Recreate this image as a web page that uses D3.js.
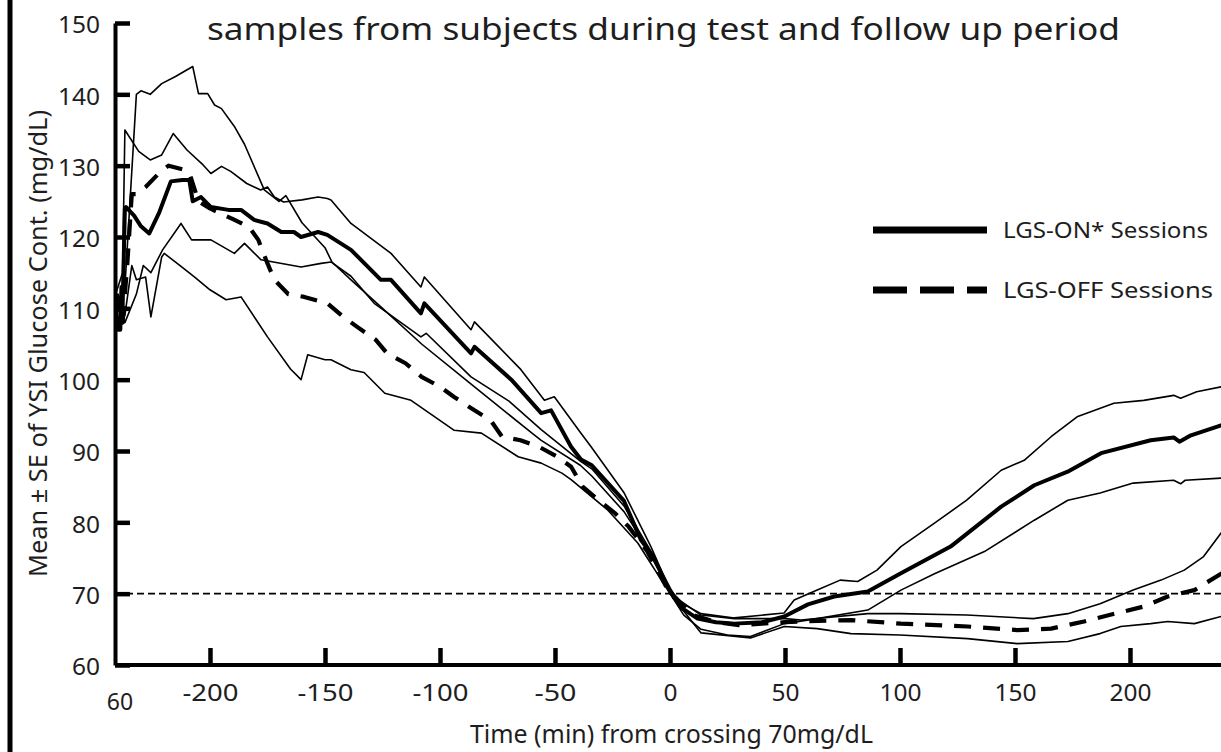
<!DOCTYPE html>
<html>
<head>
<meta charset="utf-8">
<script src="https://cdn.jsdelivr.net/npm/d3@7"></script>
<style>
  body { margin: 0; background: #fff; }
  svg { display: block; }
  text { font-family: "Noto Sans", sans-serif; fill: #1e1e1e; }
</style>
</head>
<body>
<div id="chart"></div>
<script>
// values: [minutes from crossing 70 mg/dL, glucose mg/dL]
const lgsOnMean = [[-241,110],[-240,107],[-239,107],[-238.5,113],[-238,110],[-237,124],[-236.5,124.2],[-233,123],[-230,121.5],[-226.4,120.5],[-222,123.5],[-217,127.8],[-212,128],[-209,128],[-207.5,125],[-203.9,125.6],[-199.6,124.2],[-192,123.8],[-186.5,123.8],[-180.8,122.4],[-175,121.9],[-169,120.7],[-163.5,120.7],[-160.4,120],[-153,120.7],[-149,120.3],[-138.7,118.2],[-125.7,114],[-121.3,114],[-108.3,109.3],[-106.8,110.7],[-86.5,103.7],[-85,104.6],[-69,100],[-56,95.3],[-51.7,95.7],[-43,90.6],[-38.7,88.8],[-34,88],[-20,83],[-12.6,77.5],[-8,75.5],[0,70.5],[5,68],[12,66.5],[20,66],[28,65.8],[40,66],[49.7,66.8],[60,68.5],[71.4,69.6],[86,70.3],[100,72.8],[122,76.6],[144,82.2],[158.4,85.2],[172.9,87.1],[187.4,89.7],[209,91.5],[219,91.9],[221.5,91.3],[226.5,92.2],[239.6,93.6],[246,94.2]];
const lgsOnUpper = [[-241,112],[-238,115],[-237,135],[-231,132],[-226,130.8],[-221,131.5],[-216,134.5],[-210,132.2],[-203,130.1],[-199.6,128.9],[-195,129.9],[-191,129.2],[-184,127.5],[-178,126.6],[-175,127],[-172,125.6],[-168,124.9],[-160,125.2],[-153,125.6],[-149,125.4],[-147.4,125.2],[-138.7,121.9],[-121.3,117.7],[-108.3,113],[-106.8,114.4],[-86.5,107],[-85,108.1],[-64.8,101.4],[-54.6,97.1],[-50.3,97.6],[-38.7,92.5],[-34.3,90.6],[-19.9,84.1],[-8.3,76.6],[0,70.5],[6,68.5],[13.5,67.2],[28,66.6],[49.6,67.3],[54,69.1],[64,70.5],[74,71.9],[81.6,71.7],[90,73.3],[100.4,76.6],[115,79.9],[129,83.1],[144,87.3],[154,88.7],[165.7,92],[177,94.8],[193,96.7],[206,97.1],[219,97.8],[222,97.4],[229,98.3],[239.6,99],[246,99.3]];
const lgsOnLower = [[-241,106],[-240,110],[-237,108],[-232,112],[-229,116],[-225.7,115],[-220.6,118.2],[-212.6,121.9],[-208,119.6],[-199.6,119.6],[-189.4,117.7],[-185,119.1],[-177.8,116.8],[-160.4,115.8],[-151.7,116.3],[-147.4,116.5],[-138.7,114.5],[-128.6,110.7],[-108.3,106],[-106,106.5],[-86.5,100.4],[-70,97],[-56,93],[-38.7,88.5],[-34,87.5],[-20,82.3],[-8,75.8],[0,70],[6,67],[13.5,65],[25,64.2],[35,64],[49.7,65.8],[64,66.5],[86,67.7],[100.4,70.5],[115,72.8],[136.7,75.9],[158.4,80.3],[173,83.1],[187,84.1],[201.4,85.5],[219,85.9],[222,85.4],[224,85.9],[239.6,86.2],[246,86.3]];
const lgsOffMean = [[-241,112],[-240,110],[-238,108],[-236,116],[-234,126],[-232,126],[-228,127],[-222,129],[-218,130],[-212,129.5],[-209,129],[-205,125],[-200,124],[-190,122.5],[-183,121.4],[-179,119.6],[-175,116.3],[-172,114],[-166,112],[-159,111.6],[-149,110.7],[-142,108.8],[-136,107.4],[-128,105.6],[-123,103.7],[-115,102.3],[-108,100.4],[-100,99],[-94,97.6],[-85,95.7],[-78,94.3],[-73,92],[-65,91.5],[-57,90.6],[-49,89.2],[-43,87.8],[-38,85],[-31,83.1],[-24,81.3],[-18,79.4],[-10,76],[0,70],[10,67],[20,66],[30,65.6],[40,65.8],[50,66],[57,66.1],[78.7,66.3],[100.4,65.8],[129.4,65.4],[151,64.9],[165.7,65.1],[180,66.1],[194.7,67.3],[206,68.2],[216.4,69.6],[228,70.5],[239.6,72.8],[246,74]];
const lgsOffUpper = [[-241,110],[-237,113],[-232,140],[-230,140.5],[-226,140],[-221,141.5],[-215,142.5],[-207.5,143.9],[-205,140.1],[-201,140.1],[-198,138.5],[-195,138],[-189.4,135.5],[-185,133],[-176.4,126.6],[-170,125],[-167,125.8],[-160,122],[-150,118.5],[-147,116.5],[-138.7,114],[-125.7,110.2],[-108,105],[-87,99.5],[-60,92.5],[-56,91.5],[-39,88],[-34,86.5],[-20,81.5],[-8,75.5],[0,70],[13.5,67],[28,66.5],[50,66.5],[57,66.3],[86,67.2],[100,67.2],[129,67],[158,66.5],[173,67.2],[187,68.6],[201.4,70.5],[213.5,71.9],[223.6,73.3],[232,75.2],[239.6,78.5],[246,81]];
const lgsOffLower = [[-241,107],[-240,112],[-237,109],[-234,116],[-232,114],[-228,114.4],[-225.7,108.8],[-221,117.2],[-219.9,117.7],[-213,116],[-206.8,114.4],[-200,112.6],[-193,111.2],[-186.5,111.6],[-175,106],[-165,101.5],[-160.4,100],[-157.5,103.5],[-150,102.8],[-147.4,102.8],[-138.7,101.4],[-133,101],[-124,98.1],[-112.6,97.1],[-93.8,92.9],[-82,92.5],[-66,89.2],[-56,88.3],[-47,86.9],[-43,86],[-27,81.7],[-14,77.1],[0,70],[13.5,64.5],[35,63.8],[49.7,65.4],[64,65.1],[78.7,64.4],[100,64.2],[129.4,63.7],[151,63],[173,63.3],[187,64.4],[196,65.4],[209,65.8],[216.4,66.1],[228,65.8],[239.6,66.8],[246,67]];

const xTicks = [-200, -150, -100, -50, 0, 50, 100, 150, 200];
const yTicks = [60, 70, 80, 90, 100, 110, 120, 130, 140, 150];
const threshold = 70;
const legendLabels = ["LGS-ON* Sessions", "LGS-OFF Sessions"];

const W = 1221, H = 752;

const svg = d3.select("#chart").append("svg")
    .attr("width", W)
    .attr("height", H);

const x = d3.scaleLinear().domain([-241.3, 250]).range([115, 115 + 491.3 * 2.3]);
const y = d3.scaleLinear().domain([60, 150]).range([665, 23]);

// frame edge on the left
svg.append("line")
    .attr("x1", 10).attr("x2", 10).attr("y1", 0).attr("y2", H)
    .attr("stroke", "#000").attr("stroke-width", 5);

// title (only its second line is inside the picture)
svg.append("text")
    .attr("x", 207).attr("y", 40)
    .attr("font-size", 31)
    .attr("textLength", 913).attr("lengthAdjust", "spacingAndGlyphs")
    .text("samples from subjects during test and follow up period");

svg.append("defs").append("clipPath").attr("id", "plot")
    .append("rect").attr("x", 115).attr("y", 0).attr("width", W - 115).attr("height", 665);

// 70 mg/dL reference
svg.append("line")
    .attr("x1", x(-241.3)).attr("x2", W)
    .attr("y1", y(threshold)).attr("y2", y(threshold))
    .attr("stroke", "#000").attr("stroke-width", 1.8)
    .attr("stroke-dasharray", "7,4");

const line = d3.line().x(d => x(d[0])).y(d => y(d[1]));
const g = svg.append("g").attr("clip-path", "url(#plot)");

const series = [
    { data: lgsOnUpper, w: 1.6, dash: null },
    { data: lgsOnLower, w: 1.6, dash: null },
    { data: lgsOffUpper, w: 1.6, dash: null },
    { data: lgsOffLower, w: 1.6, dash: null },
    { data: lgsOffMean, w: 4.2, dash: "17,12" },
    { data: lgsOnMean, w: 4, dash: null }
];
series.forEach(s => {
    g.append("path")
        .datum(s.data)
        .attr("d", line)
        .attr("fill", "none")
        .attr("stroke", "#000")
        .attr("stroke-width", s.w)
        .attr("stroke-linejoin", "round")
        .attr("stroke-dasharray", s.dash);
});

// axes (plain hyphen for negatives, as in the original)
const fmt = d => String(d);
const yAxis = svg.append("g")
    .attr("transform", "translate(115,0)")
    .call(d3.axisLeft(y).tickValues(yTicks).tickFormat(fmt).tickSize(-15).tickSizeOuter(0).tickPadding(15));
const xAxis = svg.append("g")
    .attr("transform", "translate(0,665)")
    .call(d3.axisBottom(x).tickValues(xTicks).tickFormat(fmt).tickSize(-17).tickSizeOuter(0).tickPadding(20));

[yAxis, xAxis].forEach(a => {
    a.select(".domain").attr("stroke", "#000").attr("stroke-width", 4);
    a.selectAll(".tick line").attr("stroke", "#000").attr("stroke-width", 4.5);
    a.selectAll(".tick text")
        .attr("font-family", "Noto Sans, sans-serif")
        .attr("font-size", 23)
        .attr("fill", "#1e1e1e")
        .attr("lengthAdjust", "spacingAndGlyphs")
        .attr("textLength", d => String(d).length * 14);
});
yAxis.selectAll(".tick text").attr("dy", "0.42em");
// the x-axis line continues past the right edge
xAxis.select(".domain").attr("d", "M115,0H" + W);

// stray label at the axis origin
svg.append("text")
    .attr("x", 120).attr("y", 710)
    .attr("text-anchor", "middle")
    .attr("font-size", 23)
    .text("60");

// axis titles
svg.append("text")
    .attr("x", 470).attr("y", 743)
    .attr("font-size", 25)
    .attr("textLength", 403).attr("lengthAdjust", "spacingAndGlyphs")
    .text("Time (min) from crossing 70mg/dL");

svg.append("text")
    .attr("transform", "translate(47,343.5) rotate(-90)")
    .attr("text-anchor", "middle")
    .attr("font-size", 25)
    .attr("textLength", 467).attr("lengthAdjust", "spacingAndGlyphs")
    .text("Mean \u00b1 SE of YSI Glucose Cont. (mg/dL)");

// legend
const legendY = [230, 290];
const legendDash = [null, "34,13"];
legendLabels.forEach((lab, i) => {
    svg.append("line")
        .attr("x1", 873).attr("x2", 987)
        .attr("y1", legendY[i]).attr("y2", legendY[i])
        .attr("stroke", "#000").attr("stroke-width", 7)
        .attr("stroke-dasharray", legendDash[i]);
    svg.append("text")
        .attr("x", 1003).attr("y", legendY[i] + 8)
        .attr("font-size", 21)
        .attr("textLength", i === 0 ? 205 : 210).attr("lengthAdjust", "spacingAndGlyphs")
        .text(lab);
});
</script>
</body>
</html>
